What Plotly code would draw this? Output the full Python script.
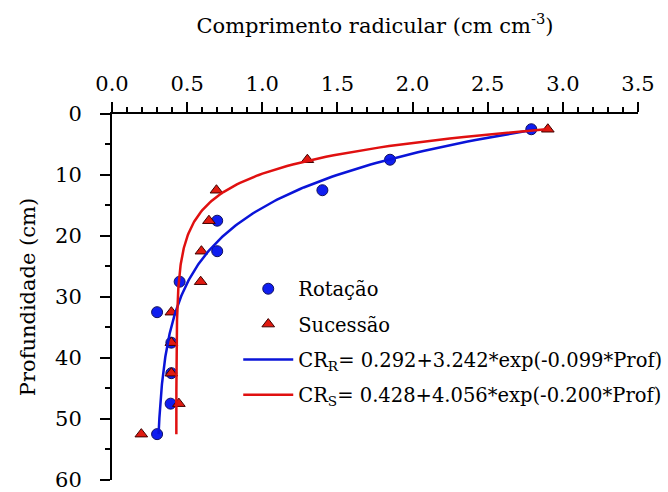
import numpy as np
import plotly.graph_objects as go

# Depths (cm)
depth = [2.5, 7.5, 12.5, 17.5, 22.5, 27.5, 32.5, 37.5, 42.5, 47.5, 52.5]
# Root length density (cm cm-3)
rotacao = [2.79, 1.85, 1.40, 0.70, 0.70, 0.45, 0.30, 0.395, 0.395, 0.39, 0.30]
sucessao = [2.90, 1.30, 0.695, 0.645, 0.595, 0.59, 0.395, 0.395, 0.395, 0.445, 0.195]

# Fitted model coefficients shown in legend: CR = a + b*exp(c*Prof)
fit_R = (0.292, 3.242, -0.099)
fit_S = (0.428, 4.056, -0.200)

x_ticks = [0.0, 0.5, 1.0, 1.5, 2.0, 2.5, 3.0, 3.5]
y_ticks = [0, 10, 20, 30, 40, 50, 60]

prof = np.linspace(depth[0], depth[-1], 200)
cr_R = fit_R[0] + fit_R[1] * np.exp(fit_R[2] * prof)
cr_S = fit_S[0] + fit_S[1] * np.exp(fit_S[2] * prof)

FONT = "DejaVu Serif"
BLUE = "#0a14d8"
RED = "#e01010"

fig = go.Figure()
fig.add_trace(go.Scatter(
    x=rotacao, y=depth, mode="markers", name="Rotação", legendgroup="a",
    marker=dict(symbol="circle", size=11, color="#0f1ef0",
                line=dict(color="#101060", width=1))))
fig.add_trace(go.Scatter(
    x=sucessao, y=depth, mode="markers", name="Sucessão", legendgroup="b",
    marker=dict(symbol="triangle-up", size=11, color="#e01a10",
                line=dict(color="#400000", width=1))))
fig.add_trace(go.Scatter(
    x=cr_R, y=prof, mode="lines", legendgroup="c",
    name="CR<sub>R</sub>= 0.292+3.242*exp(-0.099*Prof)",
    line=dict(color=BLUE, width=2.5)))
fig.add_trace(go.Scatter(
    x=cr_S, y=prof, mode="lines", legendgroup="d",
    name="CR<sub>S</sub>= 0.428+4.056*exp(-0.200*Prof)",
    line=dict(color=RED, width=2.5)))

fig.update_layout(
    width=668, height=492,
    margin=dict(l=112, r=30, t=114, b=12, autoexpand=False),
    paper_bgcolor="white", plot_bgcolor="white",
    font=dict(family=FONT, size=21, color="black"),
    showlegend=True,
    legend=dict(x=0.24, y=0.575, xanchor="left", yanchor="top",
                bgcolor="rgba(0,0,0,0)", font=dict(family=FONT, size=19.5),
                traceorder="grouped", tracegroupgap=7, itemwidth=50),
)

fig.update_xaxes(
    side="top", range=[0, 3.5], tickvals=x_ticks,
    ticktext=[f"{v:.1f}" for v in x_ticks],
    ticks="outside", ticklen=10, tickwidth=2, tickcolor="black",
    showline=True, linewidth=2, linecolor="black", mirror=False,
    showgrid=False, zeroline=False, ticklabeloverflow="allow", automargin=False,
    minor=dict(dtick=0.1, ticks="outside", ticklen=5, tickwidth=1.5, tickcolor="black", showgrid=False),
    tickfont=dict(family=FONT, size=21), ticklabelstandoff=3,
    title=dict(text="Comprimento radicular (cm cm<sup>-3</sup>)", font=dict(family=FONT, size=21), standoff=32),
)
fig.update_yaxes(
    range=[60.02, 0], tickvals=y_ticks,
    ticks="outside", ticklen=10, tickwidth=2, tickcolor="black",
    showline=True, linewidth=2, linecolor="black", mirror=False,
    showgrid=False, zeroline=False, ticklabeloverflow="allow", automargin=False,
    minor=dict(dtick=5, ticks="outside", ticklen=5, tickwidth=1.5, tickcolor="black", showgrid=False),
    tickfont=dict(family=FONT, size=21), ticklabelstandoff=14,
    title=dict(text="Profundidade (cm)", font=dict(family=FONT, size=21), standoff=14),
)

fig.write_html("out.html")
